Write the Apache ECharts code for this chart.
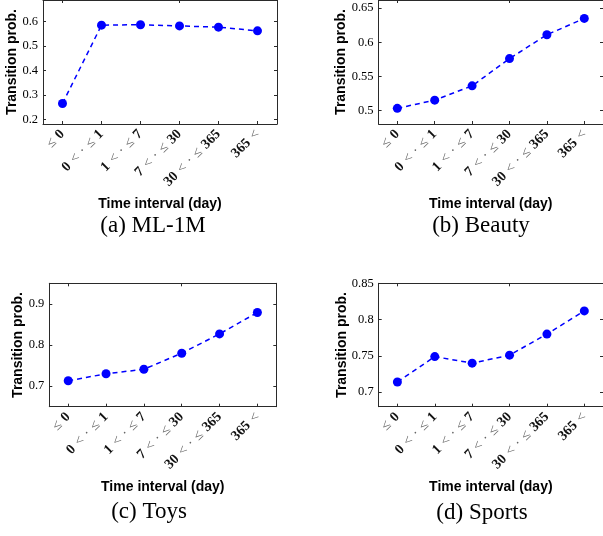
<!DOCTYPE html>
<html>
<head>
<meta charset="utf-8">
<script src="https://cdn.jsdelivr.net/npm/echarts@6/dist/echarts.min.js"></script>
<style>
  html, body { margin: 0; padding: 0; background: #fff; }
  #chart { width: 603px; height: 536px; }
</style>
</head>
<body>
<div id="chart"></div>
<script>
// Time-interval buckets shared by all four datasets
const intervals = ['≤ 0', '0 < · ≤ 1', '1 < · ≤ 7', '7 < · ≤ 30', '30 < · ≤ 365', '365 <'];

// Transition probability per bucket
const ml1m   = [0.265, 0.585, 0.587, 0.582, 0.577, 0.562];
const beauty = [0.503, 0.515, 0.536, 0.576, 0.611, 0.635];
const toys   = [0.713, 0.730, 0.741, 0.780, 0.827, 0.879];
const sports = [0.714, 0.749, 0.740, 0.751, 0.780, 0.812];

// Y tick values per panel
const ml1mTicks   = [0.2, 0.3, 0.4, 0.5, 0.6];
const beautyTicks = [0.5, 0.55, 0.6, 0.65];
const toysTicks   = [0.7, 0.8, 0.9];
const sportsTicks = [0.7, 0.75, 0.8, 0.85];

const captions = ['(a) ML-1M', '(b) Beauty', '(c) Toys', '(d) Sports'];
const xTitle = 'Time interval (day)';
const yTitle = 'Transition prob.';

// Panel geometry and y ranges
const panels = [
  { data: ml1m,   ticks: ml1mTicks,   left: 43,    top: -1,    width: 234, height: 125,   min: 0.181, max: 0.688, nameGap: 24, cap: [153, 226] },
  { data: beauty, ticks: beautyTicks, left: 378.6, top: 0,     width: 226, height: 124,   min: 0.480, max: 0.662, nameGap: 30, cap: [481, 226] },
  { data: toys,   ticks: toysTicks,   left: 49.3,  top: 283.3, width: 227, height: 123.4, min: 0.650, max: 0.950, nameGap: 24, cap: [149, 512] },
  { data: sports, ticks: sportsTicks, left: 378.7, top: 283.3, width: 226, height: 123.4, min: 0.680, max: 0.850, nameGap: 30, cap: [482, 513] }
];

const frameColor = '#2a2a2a';
const lineColor = '#0000ff';

// digits drawn heavier than the relation symbols
function richLabel(v) {
  return v.split(/(\d+)/).filter(Boolean)
    .map(t => /\d/.test(t) ? '{n|' + t + '}' : '{s|' + t.replace(/ /g, '\u2004') + '}').join('');
}

const grid = [], xAxis = [], yAxis = [], series = [], graphic = [];

panels.forEach((p, i) => {
  grid.push({ left: p.left, top: p.top, width: p.width, height: p.height, containLabel: false });

  const axisLine = { show: true, lineStyle: { color: frameColor, width: 1 } };
  const axisTick = { show: true, inside: true, length: 3, alignWithLabel: true, lineStyle: { color: frameColor, width: 1 } };

  // bottom category axis with rotated labels
  xAxis.push({
    type: 'category', gridIndex: i, data: intervals, boundaryGap: true, position: 'bottom',
    axisLine, axisTick,
    axisLabel: {
      rotate: 45, margin: 8, interval: 0, formatter: richLabel,
      rich: {
        n: { fontFamily: 'Liberation Serif', fontSize: 14, fontWeight: 'bold', color: '#111' },
        s: { fontFamily: 'Liberation Serif', fontSize: 14, color: '#666' }
      }
    },
    splitLine: { show: false },
    name: xTitle, nameLocation: 'middle', nameGap: 73, nameMoveOverlap: false,
    nameTextStyle: { fontFamily: 'Liberation Sans', fontWeight: 'bold', fontSize: 14, color: '#000' }
  });
  // top mirror axis closing the box
  xAxis.push({
    type: 'category', gridIndex: i, data: intervals, boundaryGap: true, position: 'top',
    axisLine, axisTick, axisLabel: { show: false }, splitLine: { show: false }
  });

  const tickCfg = { show: true, inside: true, length: 3, customValues: p.ticks, lineStyle: { color: frameColor, width: 1 } };
  yAxis.push({
    type: 'value', gridIndex: i, min: p.min, max: p.max, position: 'left',
    axisLine, axisTick: tickCfg,
    axisLabel: { customValues: p.ticks, margin: 5, fontFamily: 'Liberation Serif', fontSize: 12.5, color: '#000' },
    splitLine: { show: false },
    name: yTitle, nameLocation: 'middle', nameRotate: 90, nameGap: p.nameGap, nameMoveOverlap: false,
    nameTextStyle: { fontFamily: 'Liberation Sans', fontWeight: 'bold', fontSize: 14, color: '#000' }
  });
  yAxis.push({
    type: 'value', gridIndex: i, min: p.min, max: p.max, position: 'right',
    axisLine, axisTick: tickCfg, axisLabel: { show: false }, splitLine: { show: false }
  });

  series.push({
    type: 'line', xAxisIndex: 2 * i, yAxisIndex: 2 * i, data: p.data,
    symbol: 'circle', symbolSize: 9, showSymbol: true,
    itemStyle: { color: lineColor },
    lineStyle: { color: lineColor, width: 1.5, type: [5, 4] },
    emphasis: { disabled: true }, animation: false
  });

  graphic.push({
    type: 'text', x: p.cap[0], y: p.cap[1],
    style: {
      text: captions[i], fontFamily: 'Liberation Serif', fontSize: 23, fill: '#000',
      align: 'center', verticalAlign: 'middle'
    }
  });
});

const chart = echarts.init(document.getElementById('chart'), null, { renderer: 'canvas' });
chart.setOption({
  animation: false,
  backgroundColor: '#fff',
  grid, xAxis, yAxis, series, graphic
});
</script>
</body>
</html>
